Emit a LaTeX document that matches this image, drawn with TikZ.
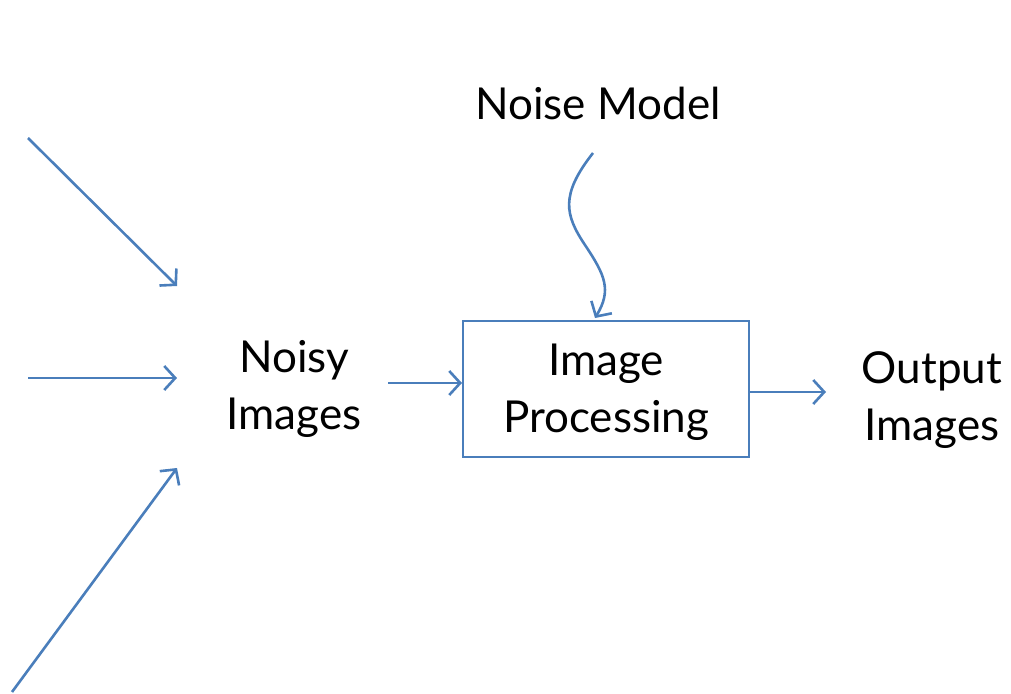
\documentclass[tikz,border=0pt]{standalone}
\usepackage{fontspec}
\setmainfont{Lato}
\usetikzlibrary{arrows.meta}
\definecolor{lineblue}{RGB}{74,126,187}
\begin{document}
\begin{tikzpicture}[x=1pt,y=-1pt,
  conn/.style={draw=lineblue,line width=2.6pt,-{Straight Barb[length=11pt,width=24pt,line width=2.6pt]}},
  lbl/.style={font=\fontsize{44}{57}\selectfont,align=center,inner sep=0pt}]
\useasboundingbox (0,0) rectangle (1011,693);
\coordinate (a1) at (28,138);
\coordinate (a1e) at (177,286);
\coordinate (a2) at (28,378);
\coordinate (a2e) at (177,378);
\coordinate (a3) at (12,692);
\coordinate (a3e) at (177,468);
\node[lbl] (noisy) at (294,389) {Noisy\\Images};
\node[draw=lineblue,line width=2pt,minimum width=286pt,minimum height=136pt,inner sep=0pt] (box) at (606,389) {};
\node[lbl] (ip) at (606,392) {Image\\Processing};
\node[lbl] (out) at (932,400) {Output\\Images};
\node[lbl] (nm) at (598,103) {Noise Model};
\coordinate (w0) at (593,153);
\coordinate (w1) at (585,245);
\coordinate (w2) at (595,318);
\path[conn] (a1) -- (a1e);
\path[conn] (a2) -- (a2e);
\path[conn] (a3) -- (a3e);
\path[conn] (388,383) -- (box.west |- 0,383);
\path[conn] (box.east |- 0,392) -- (826,392);
\path[conn] (w0) .. controls (560,195) and (565,215) .. (w1) .. controls (605,275) and (612,290) .. (w2);
\end{tikzpicture}
\end{document}
